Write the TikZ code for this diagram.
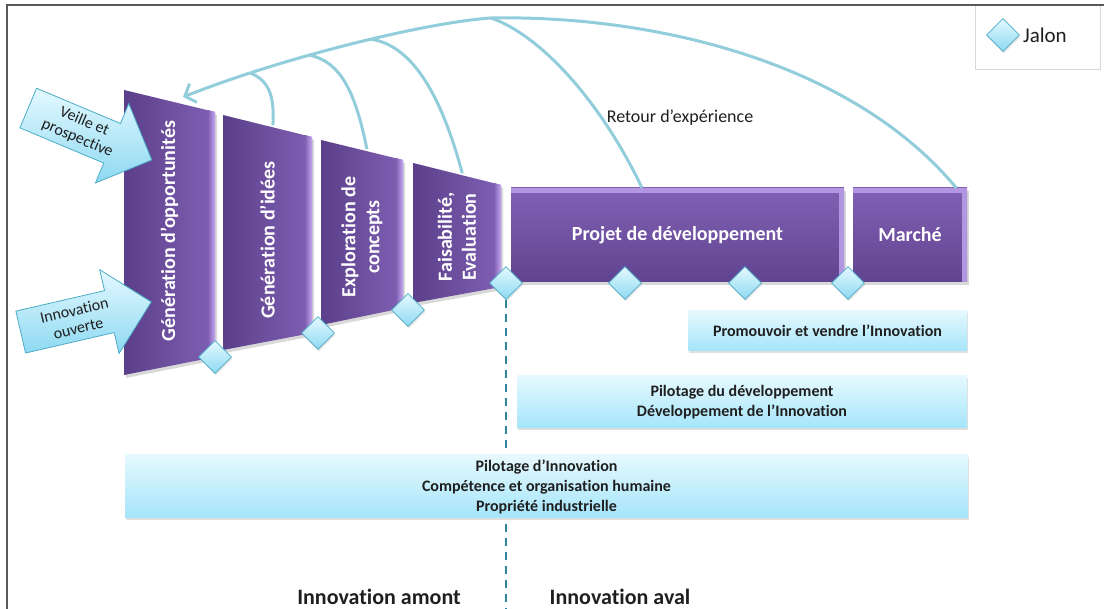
\documentclass[tikz,border=0pt]{standalone}
\usepackage{fontspec}
\setmainfont{Carlito}[Ligatures={TeX,CommonOff}]
\usetikzlibrary{shapes.geometric,arrows.meta,shadows}
\definecolor{phase-dark}{HTML}{5B3F8A}
\definecolor{phase-mid}{HTML}{8060B4}
\definecolor{phase-light}{HTML}{C4A8F0}
\definecolor{jalon-line}{HTML}{4BACC6}
\definecolor{jalon-top}{HTML}{E4F9FF}
\definecolor{jalon-bottom}{HTML}{8ED9F2}
\definecolor{support-top}{HTML}{E6F9FE}
\definecolor{support-bottom}{HTML}{A4E5FA}
\definecolor{retour-line}{HTML}{92CDDC}
\definecolor{split-line}{HTML}{31849B}
\definecolor{frame-line}{HTML}{595959}
\definecolor{text-dark}{HTML}{1F1F1F}
\tikzset{
    phase-label/.style = {text=white, font=\bfseries\fontsize{20}{24}\selectfont, align=center},
    stage-box/.style = {top color=phase-mid, bottom color=phase-dark!85!phase-mid, minimum height=94pt, inner sep=0pt,
        text=white, font=\bfseries\fontsize{20}{24}\selectfont,
        drop shadow={opacity=0.3, shadow xshift=2pt, shadow yshift=-3pt},
        path picture={
            \fill[phase-light!75!phase-mid] (path picture bounding box.north west) rectangle ([yshift=-5pt]path picture bounding box.north east);
            \fill[phase-light!75!phase-mid] (path picture bounding box.north east) rectangle ([xshift=-5pt]path picture bounding box.south east);
        }},
    jalon/.style = {diamond, draw=jalon-line, thick, top color=jalon-top, bottom color=jalon-bottom,
        minimum width=33pt, minimum height=33pt, inner sep=0pt,
        drop shadow={opacity=0.2, shadow xshift=1pt, shadow yshift=-2pt}},
    support-box/.style = {top color=support-top, bottom color=support-bottom, text=text-dark, inner sep=0pt,
        font=\bfseries\fontsize{16}{20}\selectfont, align=center,
        drop shadow={opacity=0.25, shadow xshift=1pt, shadow yshift=-2pt}},
    entry-arrow/.style = {draw=jalon-line, thick, top color=jalon-top, bottom color=jalon-bottom},
    entry-label/.style = {transform shape, text=text-dark, font=\fontsize{16}{18}\selectfont, align=center, inner sep=0pt},
    retour/.style = {draw=retour-line, line width=3pt},
    zone-label/.style = {text=text-dark, font=\bfseries\fontsize{22}{26}\selectfont},
}

\begin{document}
\begin{tikzpicture}[x=1pt, y=-1pt]
\useasboundingbox (0,0) rectangle (1104,609);

% phases amont
\foreach \lx/\ltop/\lbot/\rx/\rtop/\rbot/\cy/\nm/\lbl in {
    124/90/375/215/112/357/231/opp/{Génération d'opportunités},
    223/115/350/312/137/333/240/idees/{Génération d'idées},
    321/140/325/403/160/308/237/explo/{Exploration de\\concepts},
    413/163/303/501/185/287/237/faisa/{Faisabilité,\\Evaluation}}
{
    \shade[left color=phase-dark, right color=phase-mid, drop shadow={opacity=0.3, shadow xshift=2pt, shadow yshift=-3pt}]
        (\lx,\ltop) -- (\rx,\rtop) -- (\rx,\rbot) -- (\lx,\lbot) -- cycle;
    \shade[left color=phase-mid, right color=phase-light] (\rx-7,\rtop-2) -- (\rx,\rtop) -- (\rx,\rbot) -- (\rx-7,\rbot+1) -- cycle;
    \node[phase-label, rotate=90] (\nm) at ({(\lx+\rx)/2},\cy) {\lbl};
    \coordinate (\nm-foot) at ({\lx+0.56*(\rx-\lx)},{\ltop+0.56*(\rtop-\ltop)-2});
}

% phases aval
\node[stage-box, minimum width=333pt] (projet) at (677.5,235) {Projet de développement};
\node[stage-box, minimum width=114pt] (marche) at (910,235) {Marché};

% jalons
\foreach \x/\y/\nm in {215/357/j1, 318/333/j2, 408/310/j3, 506/283/j4, 625/283/j5, 745/283/j6, 848/283/j7}
    \node[jalon] (\nm) at (\x,\y) {};

\coordinate (split-end) at (506,609);
\draw[split-line, line width=2pt, dash pattern=on 8pt off 6pt] (j4.south) -- (split-end);

% activites support
\node[support-box, minimum width=279pt, minimum height=40pt] (promo) at (827.5,331) {Promouvoir et vendre l'Innovation};
\node[support-box, minimum width=450pt, minimum height=52pt] (pilot-dev) at (742,402) {Pilotage du développement\\Développement de l'Innovation};
\node[support-box, minimum width=843pt, minimum height=63pt] (pilot-innov) at (546.5,486.5) {Pilotage d'Innovation\\Compétence et organisation humaine\\Propriété industrielle};

% entrees
\foreach \cx/\cy/\ang/\nm/\lbl in {90/134/-22.8/veille/{Veille et\\prospective}, 86/317/13/ouverte/{Innovation\\ouverte}}
{
    \begin{scope}[shift={(\cx,\cy)}, rotate=\ang]
        \path[entry-arrow] (-67,-21.5) -- (24,-21.5) -- (24,-43) -- (67,0) -- (24,43) -- (24,21.5) -- (-67,21.5) -- cycle;
        \node[entry-label] (\nm) at (-10,0) {\lbl};
    \end{scope}
}

% retour d'experience
\coordinate (projet-foot) at ([xshift=-35.5pt]projet.north);
\coordinate (marche-foot) at ([xshift=-11pt]marche.north east);
\coordinate (r-peak) at (491,18);
\coordinate (retour-tip) at (183,97);
\draw[retour, -{Straight Barb[length=9pt, width=20pt]}] (marche-foot) .. controls (850,60) and (650,15) .. (r-peak)
    .. controls (430,22) and (290,55) .. (retour-tip)
    coordinate[pos=0.45] (join-faisa) coordinate[pos=0.63] (join-explo) coordinate[pos=0.8] (join-idees);
\draw[retour] (projet-foot) .. controls (600,100) and (540,35) .. (r-peak);
\draw[retour] (faisa-foot) .. controls (440,90) and (410,45) .. (join-faisa);
\draw[retour] (explo-foot) .. controls (355,90) and (340,62) .. (join-explo);
\draw[retour] (idees-foot) .. controls (275,95) and (268,80) .. (join-idees);
\node[text=text-dark, font=\fontsize{18}{22}\selectfont] (retour-text) at (680,118) {Retour d'expérience};

% zones
\node[zone-label] (amont) at (379,597) {Innovation amont};
\node[zone-label] (aval) at (620,597) {Innovation aval};

% legende
\node[draw=gray!30, fill=white, minimum width=125pt, minimum height=64pt] (legend) at (1037.5,37) {};
\node[jalon] (legend-jalon) at (1003,35) {};
\node[right, text=text-dark, font=\fontsize{21}{25}\selectfont, inner sep=3pt] (legend-text) at (legend-jalon.east) {Jalon};

\draw[frame-line, line width=2pt] (7,609) -- (7,5) -- (1104,5);
\end{tikzpicture}
\end{document}
